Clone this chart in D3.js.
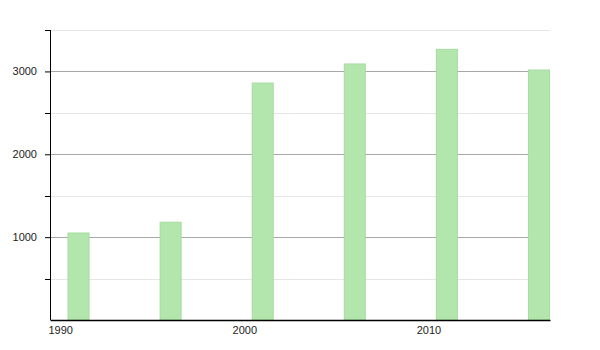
<!DOCTYPE html>
<html>
<head>
<meta charset="utf-8">
<script src="https://cdn.jsdelivr.net/npm/d3@7"></script>
<style>
  body { margin: 0; background: #fff; }
  svg text { font-family: "Liberation Sans", Arial, sans-serif; font-size: 11px; fill: #222; }
</style>
</head>
<body>
<div id="chart"></div>
<script>
const years = [1991, 1996, 2001, 2006, 2011, 2016];
const values = [1050, 1180, 2860, 3090, 3267, 3017];
const xTicks = [1990, 2000, 2010];
const yMajor = [1000, 2000, 3000];
const yMinor = [500, 1500, 2500, 3500];

const width = 600;
const height = 350;
const margin = {top: 30, right: 50, bottom: 30, left: 50};

const svg = d3.select('#chart')
    .append('svg')
    .attr('width', width)
    .attr('height', height);

const x = d3.scaleLinear()
    .domain([1989.45, 2016.6])
    .range([margin.left, width - margin.right]);

const y = d3.scaleLinear()
    .domain([0, 3500])
    .range([height - margin.bottom, margin.top]);

// grid lines
svg.append('g')
    .selectAll('line')
    .data(yMinor)
    .join('line')
        .attr('x1', margin.left)
        .attr('x2', width - margin.right)
        .attr('y1', d => Math.round(y(d)) + 0.5)
        .attr('y2', d => Math.round(y(d)) + 0.5)
        .attr('stroke', '#e6e6e6');

svg.append('g')
    .selectAll('line')
    .data(yMajor)
    .join('line')
        .attr('x1', margin.left)
        .attr('x2', width - margin.right)
        .attr('y1', d => Math.round(y(d)) + 0.5)
        .attr('y2', d => Math.round(y(d)) + 0.5)
        .attr('stroke', '#a8a8a8');

const barW = 21;

svg.append('g')
    .selectAll('rect')
    .data(years.map((yr, i) => ({yr, v: values[i]})))
    .join('rect')
        .attr('x', d => x(d.yr) - barW / 2)
        .attr('y', d => y(d.v))
        .attr('width', barW)
        .attr('height', d => y(0) - y(d.v))
        .attr('fill', '#b3e6ad')
        .attr('stroke', '#a6dba0')
        .attr('stroke-width', 1);

// y axis
const yAxis = svg.append('g')
    .attr('transform', `translate(${margin.left}, 0)`)
    .call(d3.axisLeft(y).tickValues(yMajor).tickSize(5).tickPadding(8).tickFormat(d3.format('d')));
yAxis.select('.domain').attr('stroke', '#000').attr('d', `M0.5,${y(3500)}V${y(0)}`);
yAxis.selectAll('.tick line').attr('stroke', '#000');
yAxis.selectAll('text').attr('fill', '#222').style('font-size', '11px');

svg.append('g')
    .attr('transform', `translate(${margin.left}, 0)`)
    .selectAll('line')
    .data(yMinor)
    .join('line')
        .attr('x1', -5)
        .attr('x2', 0)
        .attr('y1', d => Math.round(y(d)) + 0.5)
        .attr('y2', d => Math.round(y(d)) + 0.5)
        .attr('stroke', '#000');

// x axis
const xAxis = svg.append('g')
    .attr('transform', `translate(0, ${height - margin.bottom})`)
    .call(d3.axisBottom(x).tickValues(xTicks).tickSize(0).tickPadding(6).tickFormat(d3.format('d')));
xAxis.select('.domain').attr('stroke', '#000').attr('stroke-width', 1.5);
xAxis.selectAll('text').attr('fill', '#222').style('font-size', '11px');
</script>
</body>
</html>
